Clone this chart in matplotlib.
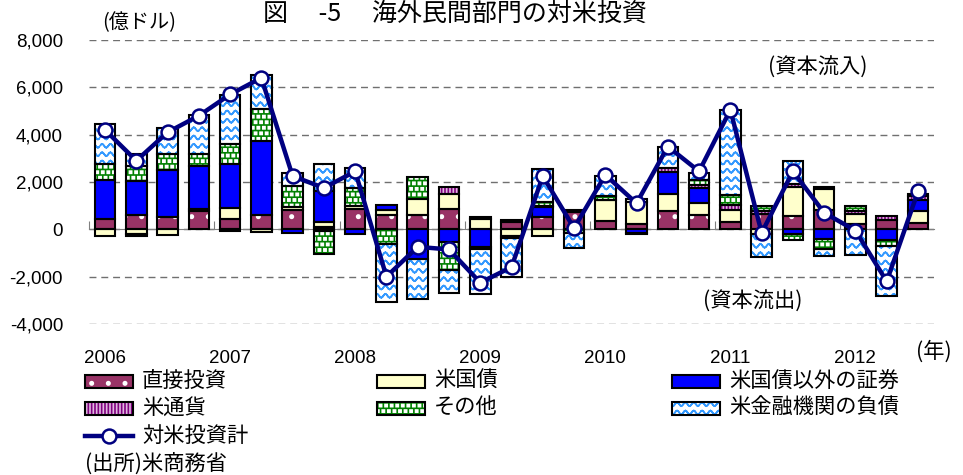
import warnings
import numpy as np
import matplotlib
matplotlib.use("Agg")
import matplotlib.pyplot as plt
import matplotlib.hatch as mhatch
import matplotlib.transforms as mtrans
from matplotlib.path import Path
from matplotlib.patches import Rectangle
from matplotlib.lines import Line2D

# 独自ハッチ文字（~ と #）の警告は無視
warnings.filterwarnings("ignore", category=matplotlib.MatplotlibDeprecationWarning)

# データ（億ドル、2006年1Q～2012年3Q）
quarters = [f"{y}Q{q}" for y in range(2006, 2013) for q in range(1, 5)][:27]
years = ["2006", "2007", "2008", "2009", "2010", "2011", "2012"]

fdi = [450, 600, 520, 770, 450, 620, 810, 100, 880, 590, 590, 870, 0, 310,
       520, 750, 350, 210, 760, 590, 310, 660, 560, 800, 210, 410, 270]
tsy = [-300, -200, -230, 110, 460, -130, 140, 230, 110, 210, 700, 630, 450, -280,
       -300, 0, 870, 950, 740, 520, 490, -180, 1240, 900, 450, 0, 490]
sec = [1650, 1450, 1990, 1800, 1840, 3130, -140, 1270, -180, 230, -1270, -530, -750, -100,
       420, 0, 0, -150, 910, 640, 0, 0, -210, -390, 0, -430, 500]
cur = [0, -100, 0, 0, -50, 0, 0, -60, 0, 0, 0, 300, 60, 0,
       60, 50, 40, -50, 180, 130, 210, 100, 120, 100, 130, 150, 150]
oth = [650, 640, 690, 520, 850, 1320, 880, -1000, 770, -600, 910, -1200, -100, 100,
       150, -150, 150, 110, 0, 220, 420, 220, -220, -420, 210, -280, 80]
bank = [1700, 500, 1100, 1620, 2070, 1460, 550, 1150, 850, -2450, -1670, -950, -1900, -1650,
        1400, -650, 850, 0, 900, 300, 3600, -1000, 950, -330, -1100, -2100, 0]
total = [4200, 2900, 4100, 4800, 5700, 6400, 2250, 1750, 2450, -2000, -740, -850, -2250, -1600,
         2250, 50, 2300, 1100, 3500, 2450, 5050, -150, 2450, 700, -50, -2200, 1600]

names = ["直接投資", "米国債", "米国債以外の証券", "米通貨", "その他", "米金融機関の負債"]
values = [fdi, tsy, sec, cur, oth, bank]
# (塗り, ハッチ, ハッチ色)
styles = [("#993366", ".", "white"),
          ("#FFFFCC", None, None),
          ("#0000FF", None, None),
          ("#E0B8E0", "|||||", "#800080"),
          ("#008000", "###", "white"),
          ("white", "~~", "#3399FF")]


class WaveHatch(mhatch.HatchPatternBase):
    # 波線
    def __init__(self, hatch, density):
        self.num_lines = hatch.count("~") * density
        self.steps = 8 * self.num_lines
        self.num_vertices = self.num_lines * self.steps * 2

    def set_vertices_and_codes(self, vertices, codes):
        xs = np.linspace(0, 1, self.steps + 1)
        parts = []
        for k in range(self.num_lines):
            ys = (k + 0.5) / self.num_lines + 0.22 / self.num_lines * np.sin(2 * np.pi * self.num_lines * xs)
            pts = np.column_stack([xs, ys])
            parts.append(np.stack([pts[:-1], pts[1:]], axis=1).reshape(-1, 2))
        vertices[:] = np.concatenate(parts)
        codes[0::2] = Path.MOVETO
        codes[1::2] = Path.LINETO


class CheckHatch(mhatch.Shapes):
    # 市松模様（白い四角）
    filled = True
    size = 0.2
    shape_vertices = np.array([[-1, -1], [1, -1], [1, 1], [-1, 1], [-1, -1]], dtype=float)
    shape_codes = np.array([Path.MOVETO, Path.LINETO, Path.LINETO, Path.LINETO, Path.CLOSEPOLY],
                           dtype=Path.code_type)

    def __init__(self, hatch, density):
        self.num_rows = hatch.count("#") * density
        super().__init__(hatch, density)


mhatch._hatch_types.extend([WaveHatch, CheckHatch])

plt.rcParams["font.family"] = ["Noto Sans CJK JP", "DejaVu Sans"]
plt.rcParams["hatch.linewidth"] = 1.2

W, H = 963, 475


def fx(px):
    return px / W


def fy(py):
    return 1 - py / H


fig = plt.figure(figsize=(9.63, 4.75), dpi=100)
ax = fig.add_axes([fx(89.4), fy(324), (933.6 - 89.4) / W, (324 - 40) / H])

x = np.arange(len(quarters))
pos_base = np.zeros(len(x))
neg_base = np.zeros(len(x))
bw = 0.66
for vals, (face, hatch, hcol) in zip(values, styles):
    v = np.array(vals, dtype=float)
    for m, base in ((v > 0, pos_base), (v < 0, neg_base)):
        ax.bar(x[m], v[m], bottom=base[m], width=bw, color=face, hatch=hatch,
               edgecolor=hcol if hcol else face, linewidth=0, zorder=2)
        ax.bar(x[m], v[m], bottom=base[m], width=bw, facecolor="none",
               edgecolor="black", linewidth=1.5, zorder=3)
        base[m] += v[m]

ax.plot(x, total, color="#000080", lw=3.2, marker="o", ms=10, mfc="white",
        mec="#000080", mew=1.8, zorder=5)

ax.set_xlim(-0.5, len(x) - 0.5)
ax.set_ylim(-4000, 8000)
yticks = list(range(-4000, 8001, 2000))
ax.set_yticks(yticks)
ax.set_yticklabels([f"{v:,}" for v in yticks], family="Liberation Sans", fontsize=13.5)
ax.tick_params(axis="y", length=0, pad=19)
ax.set_axisbelow(True)
ax.yaxis.grid(True, color="#707070", linestyle=(0, (5, 3.5)), linewidth=1)

for s in ["top", "right", "left"]:
    ax.spines[s].set_visible(False)
ax.spines["bottom"].set_position(("data", 0))
ax.spines["bottom"].set_color("#808080")
ax.spines["bottom"].set_zorder(1)
ax.set_xticks(np.arange(-0.5, len(x), 4))
ax.tick_params(axis="x", direction="in", length=6, color="#808080", labelbottom=False)

trans = mtrans.blended_transform_factory(ax.transData, ax.transAxes)
for i, yr in enumerate(years):
    ax.text(4 * i, -0.1215, yr, transform=trans, ha="center", va="center",
            fontsize=13.5, family="Liberation Sans")

# タイトル・注記
fig.text(fx(263), fy(1), "図\u3000 -5 \u3000海外民間部門の対米投資", fontsize=18, va="top")
fig.text(fx(102), fy(23), "(億ドル)", fontsize=14.5, va="center")
fig.text(fx(768), fy(68), "(資本流入)", fontsize=15.3, va="center")
fig.text(fx(703), fy(302), "(資本流出)", fontsize=15.3, va="center")
fig.text(fx(916), fy(352), "(年)", fontsize=15.3, va="center")

# 凡例（手描き）
leg_pos = [(85, 381), (377, 381), (672, 381), (85, 408), (377, 408), (672, 408)]
for name, (face, hatch, hcol), (px, py) in zip(names, styles, leg_pos):
    fig.add_artist(Rectangle((fx(px), fy(py + 6.5)), 48 / W, 13 / H, transform=fig.transFigure,
                             facecolor=face, hatch=hatch, edgecolor=hcol if hcol else face, lw=0))
    fig.add_artist(Rectangle((fx(px), fy(py + 6.5)), 48 / W, 13 / H, transform=fig.transFigure,
                             facecolor="none", edgecolor="black", lw=1.5))
    fig.text(fx(px + 57), fy(py), name, fontsize=15.3, va="center")

fig.add_artist(Line2D([fx(85), fx(133)], [fy(436), fy(436)], transform=fig.transFigure,
                      color="#000080", lw=3.2))
fig.add_artist(Line2D([fx(109)], [fy(436)], transform=fig.transFigure, marker="o", ms=10,
                      mfc="white", mec="#000080", mew=1.8))
fig.text(fx(142), fy(436), "対米投資計", fontsize=15.3, va="center")
fig.text(fx(85), fy(464), "(出所)米商務省", fontsize=15.3, va="center")

fig.savefig("out.png", dpi=100)
